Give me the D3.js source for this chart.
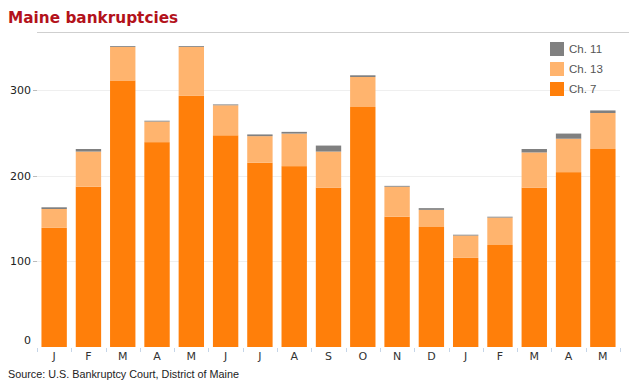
<!DOCTYPE html>
<html>
<head>
<meta charset="utf-8">
<script src="https://cdn.jsdelivr.net/npm/d3@7"></script>
<style>
  body { margin: 0; background: #fff; }
  text { font-family: "DejaVu Sans", Verdana, sans-serif; }
  .arial { font-family: "Liberation Sans", Arial, sans-serif; }
</style>
</head>
<body>
<svg id="chart" width="629" height="386"></svg>
<script>
const months = ['J', 'F', 'M', 'A', 'M', 'J', 'J', 'A', 'S', 'O', 'N', 'D', 'J', 'F', 'M', 'A', 'M'];
const ch7  = [139, 187, 311, 239, 293, 247, 215, 211, 186, 280, 152, 140, 104, 119, 186, 204, 231];
const ch13 = [22, 41, 39, 24, 57, 35, 31, 38, 42, 35, 35, 20, 26, 32, 41, 39, 42];
const ch11 = [2, 3, 1, 1, 1, 1, 2, 2, 7, 2, 1, 2, 1, 1, 4, 6, 3];
const yTicks = [0, 100, 200, 300];

const seriesNames = ['Ch. 7', 'Ch. 13', 'Ch. 11'];
const colors = ['#ff7f0a', '#ffb46e', '#808080'];

const svg = d3.select('#chart');
const plotL = 37, plotR = 620, plotT = 32, plotB = 347;

const rows = months.map((m, i) => ({i, m, c7: ch7[i], c13: ch13[i], c11: ch11[i]}));
const stack = d3.stack().keys(['c7', 'c13', 'c11'])(rows);

const x = d3.scaleBand().domain(d3.range(months.length)).range([plotL, plotR])
  .paddingInner(0.26).paddingOuter(0.13);
const y = d3.scaleLinear().domain([0, 367.5]).range([plotB, plotT]);

// title
svg.append('text').attr('x', 8).attr('y', 23)
  .attr('font-size', '15.3px').attr('font-weight', 'bold').attr('fill', '#b3121b')
  .text('Maine bankruptcies');

// top rule
svg.append('line').attr('x1', plotL).attr('x2', 629).attr('y1', plotT + 0.5).attr('y2', plotT + 0.5)
  .attr('stroke', '#cfcfcf');

// grid + y labels
const g = svg.append('g');
g.selectAll('.grid').data(yTicks.filter(d => d > 0)).enter().append('line')
  .attr('x1', plotL - 4).attr('x2', plotR)
  .attr('y1', d => Math.round(y(d)) + 0.5).attr('y2', d => Math.round(y(d)) + 0.5)
  .attr('stroke', '#efefef');
g.selectAll('.tk').data(yTicks.filter(d => d > 0)).enter().append('line')
  .attr('x1', plotL - 4).attr('x2', plotL)
  .attr('y1', d => Math.round(y(d)) + 0.5).attr('y2', d => Math.round(y(d)) + 0.5)
  .attr('stroke', '#bbb');
g.selectAll('.yl').data(yTicks).enter().append('text')
  .attr('x', 31).attr('y', d => y(d) + (d === 0 ? -3 : 4))
  .attr('text-anchor', 'end').attr('font-size', '11px').attr('fill', '#222')
  .text(d => d);

// bars
svg.selectAll('.layer').data(stack).enter().append('g')
  .attr('fill', (d, i) => colors[i])
  .selectAll('rect').data(d => d).enter().append('rect')
    .attr('x', d => x(d.data.i))
    .attr('width', x.bandwidth())
    .attr('y', d => y(d[1]))
    .attr('height', d => y(d[0]) - y(d[1]));

// x ticks between bands
const edges = d3.range(months.length + 1).map(i => plotL + i * x.step());
svg.selectAll('.xt').data(edges).enter().append('line')
  .attr('x1', d => Math.round(d) + 0.5).attr('x2', d => Math.round(d) + 0.5)
  .attr('y1', plotB + 1).attr('y2', plotB + 5)
  .attr('stroke', '#c5d5e8');

svg.selectAll('.xl').data(rows).enter().append('text')
  .attr('x', d => x(d.i) + x.bandwidth() / 2).attr('y', 360)
  .attr('text-anchor', 'middle').attr('font-size', '11px').attr('fill', '#333')
  .text(d => d.m);

// legend
const leg = svg.append('g').attr('transform', 'translate(550,42)');
const legOrder = [2, 1, 0];
legOrder.forEach((s, k) => {
  leg.append('rect').attr('x', 0).attr('y', k * 20).attr('width', 14).attr('height', 14)
    .attr('fill', colors[s]);
  leg.append('text').attr('class', 'arial').attr('x', 19).attr('y', k * 20 + 11)
    .attr('font-size', '11.5px').attr('fill', '#555')
    .text(seriesNames[s]);
});

// source
svg.append('text').attr('class', 'arial').attr('x', 8).attr('y', 378)
  .attr('font-size', '10.8px').attr('fill', '#222')
  .text('Source: U.S. Bankruptcy Court, District of Maine');
</script>
</body>
</html>
